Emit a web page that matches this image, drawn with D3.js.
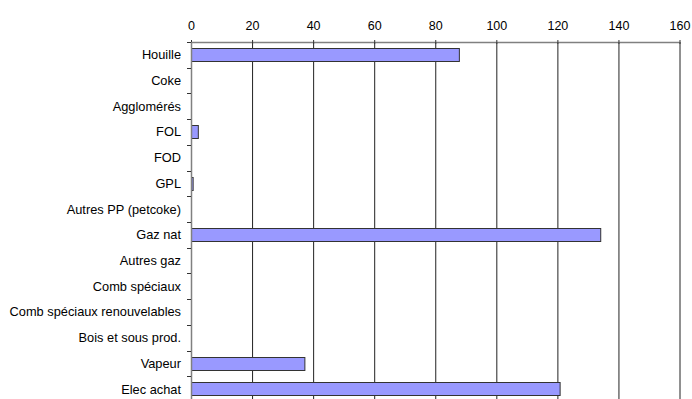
<!DOCTYPE html>
<meta charset="utf-8">
<style>
body { margin: 0; background: #fff; }
svg { display: block; font-family: "Liberation Sans", Arial, sans-serif; }
.grid line { stroke: #222; stroke-width: 1; }
.grid path { display: none; }
.axis--x path, .axis--y path { stroke: #808080; stroke-width: 1.5; }
.axis--x line, .axis--y line { stroke: #333; }
.axis text { font-size: 12.5px; fill: #000; }
.bar { fill: #9999ff; stroke: #333; stroke-width: 1; }
</style>
<svg width="692" height="399"></svg>
<script src="https://d3js.org/d3.v7.min.js"></script>
<script>

var categories = ["Houille", "Coke", "Agglomérés", "FOL", "FOD", "GPL",
  "Autres PP (petcoke)", "Gaz nat", "Autres gaz", "Comb spéciaux",
  "Comb spéciaux renouvelables", "Bois et sous prod.", "Vapeur", "Elec achat"];
var values = [87.9, 0, 0, 2.4, 0, 0.7, 0, 134.2, 0, 0, 0, 0, 37.3, 120.9];
var ticks = [0, 20, 40, 60, 80, 100, 120, 140, 160];

var svg = d3.select("svg"),
    margin = {top: 42, right: 12, bottom: 0, left: 191},
    width = 679.5 - margin.left,
    height = 360;

var x = d3.scaleLinear().domain([0, 160]).range([0, width]),
    y = d3.scaleBand().domain(categories).range([0, height]).paddingInner(0.48).paddingOuter(0.24);

var g = svg.append("g")
    .attr("transform", "translate(" + margin.left + "," + margin.top + ")");

// vertical gridlines
g.append("g")
    .attr("class", "grid")
    .call(d3.axisTop(x).tickValues(ticks.slice(1)).tickSize(-height).tickFormat(""));

g.selectAll(".bar")
  .data(categories.map(function(c, i) { return {cat: c, v: values[i]}; }).filter(function(d) { return d.v > 0; }))
  .enter().append("rect")
    .attr("class", "bar")
    .attr("x", 0.5)
    .attr("y", function(d) { return Math.round(y(d.cat)) + 0.5; })
    .attr("width", function(d) { return Math.max(x(d.v) - 0.5, 0); })
    .attr("height", Math.round(y.bandwidth()));

var xAxis = g.append("g")
    .attr("class", "axis axis--x")
    .call(d3.axisTop(x).tickValues(ticks).tickSizeOuter(0).tickSizeInner(3).tickPadding(9));
xAxis.selectAll(".tick line").attr("y2", 2).attr("y1", -2);

// y axis with ticks between categories
var yAxis = g.append("g")
    .attr("class", "axis axis--y");
yAxis.append("path")
    .attr("d", "M0.5,0V" + height)
    .attr("fill", "none");
yAxis.selectAll(".sep")
  .data(d3.range(categories.length + 1))
  .enter().append("line")
    .attr("x1", -4).attr("x2", 0)
    .attr("y1", function(i) { return Math.round(i * y.step()) + 0.5; })
    .attr("y2", function(i) { return Math.round(i * y.step()) + 0.5; })
    .attr("stroke", "#333");
yAxis.selectAll(".lbl")
  .data(categories)
  .enter().append("text")
    .attr("x", -10)
    .attr("y", function(d) { return y(d) + y.bandwidth() / 2; })
    .attr("dy", "0.35em")
    .style("text-anchor", "end")
    .style("font-size", "12.8px")
    .text(function(d) { return d; });

</script>
